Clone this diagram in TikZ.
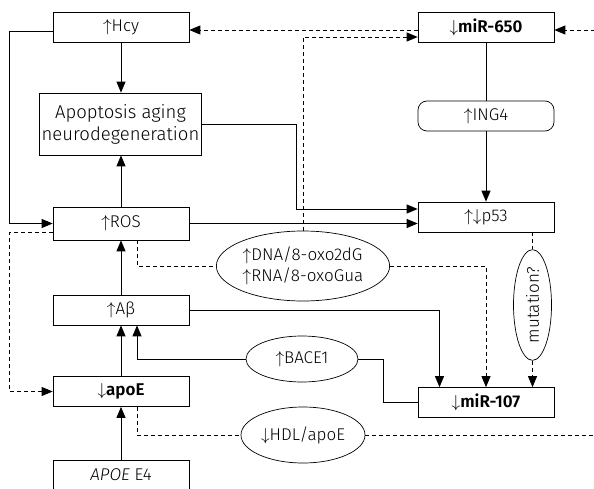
\documentclass[tikz,border=0pt]{standalone}
\usepackage{fontspec}
\setmainfont{Fira Sans}[UprightFont={* Light}, ItalicFont={* Light Italic},
                        BoldFont={* SemiBold}]
\usetikzlibrary{arrows.meta, positioning, shapes.geometric}
\newcommand{\upa}{\ensuremath{\uparrow}}
\newcommand{\dna}{\ensuremath{\downarrow}}

\begin{document}
\begin{tikzpicture}[
    x=1pt, y=-1pt,
    font=\fontsize{17}{21}\selectfont,
    box/.style={draw, line width=0.7pt, minimum width=136pt,
                minimum height=30pt, inner sep=2pt},
    pill/.style={draw, line width=0.7pt, rounded corners=9pt,
                 minimum width=136pt, minimum height=30pt},
    oval/.style={draw, line width=0.7pt, ellipse, inner sep=1pt, align=left},
    arrow/.style={-{Triangle[length=11pt, width=9pt]}, line width=0.9pt},
    link/.style={line width=0.9pt},
    dashlink/.style={line width=0.8pt, dash pattern=on 4pt off 3pt},
    dasharrow/.style={dashlink, -{Triangle[length=11pt, width=9pt]}},
]
\useasboundingbox (0,0) rectangle (594,489);

% Left column
\node[box] (hcy) at (121,27) {\upa Hcy};
\node[box, minimum width=157pt, minimum height=62pt, align=center,
      font=\fontsize{18.5}{22}\selectfont]
    (apo) at (120.5,124) {Apoptosis aging\\neurodegeneration};
\node[box, minimum height=33pt] (ros) at (121,223.5) {\upa ROS};
\node[box] (abeta) at (121,310) {\upa Aβ};
\node[box] (apoe) at (121,391.5) {\dna\textbf{apoE}};
\node[box] (e4) at (121,475) {\textit{APOE} E4};

% Right column
\node[box] (mir650) at (486,27) {\dna\textbf{miR-650}};
\node[pill] (ing4) at (486,116) {\upa ING4};
\node[box] (p53) at (486,217) {\upa\dna p53};
\node[box] (mir107) at (486,402.5) {\dna\textbf{miR-107}};

% Middle ovals
\node[oval, minimum width=172pt, minimum height=70pt]
    (dnaox) at (303,266) {\upa DNA/8-oxo2dG\\\upa RNA/8-oxoGua};
\node[oval, minimum width=112pt, minimum height=46pt] (bace) at (302,359) {\upa BACE1};
\node[oval, minimum width=124pt, minimum height=56pt] (hdl) at (303,435) {\dna HDL/apoE};
\node[oval, rotate=90, minimum width=104pt, minimum height=38pt]
    (mut) at (532.5,305) {mutation?};

\coordinate (offr) at (610,0);

% Solid connectors
\draw[arrow] ([yshift=-4pt]hcy.west) -- ++(-43,0) |- (ros.west);
\draw[arrow] (hcy) -- (hcy |- apo.north);
\draw[arrow] (ros) -- (ros |- apo.south);
\draw[arrow] (apo.east) -- ++(95,0) |- ([yshift=8pt]p53.west);
\draw[arrow] (ros.east) -- (ros.east -| p53.west);
\draw[link] (mir650) -- (ing4);
\draw[arrow] (ing4) -- (p53);
\draw[arrow] (e4) -- (apoe);
\draw[arrow] (apoe) -- (abeta);
\draw[arrow] (abeta) -- (ros);
\draw[arrow] (bace.west) -| ([xshift=16pt]abeta.south);
\draw[link] (mir107.west) -- ++(-34,0) |- (bace.east);
\draw[arrow] (abeta.east) -| ([xshift=-46.5pt]mir107.north);

% Dashed connectors
\draw[dasharrow] ([yshift=-3pt]mir650.west) -- ([yshift=-3pt]hcy.east);
\draw[dasharrow] (dnaox.north) |- ([yshift=-10pt]mir650.west);
\draw[dasharrow] (hdl.east) -- (hdl.east -| offr) |- ([yshift=-3pt]mir650.east);
\draw[dasharrow] ([yshift=-8.5pt]ros.west) -- ++(-43,0) |- (apoe.west);
\draw[dashlink] ([xshift=16pt]ros.south) |- (dnaox.west);
\draw[dasharrow] (dnaox.east) -| (mir107.north);
\draw[dashlink] ([xshift=16pt]apoe.south) |- (hdl.west);
\draw[dashlink] ([xshift=46.5pt]p53.south) -- (mut.east);
\draw[dasharrow] (mut.west) -- ([xshift=46.5pt]mir107.north);
\end{tikzpicture}
\end{document}
